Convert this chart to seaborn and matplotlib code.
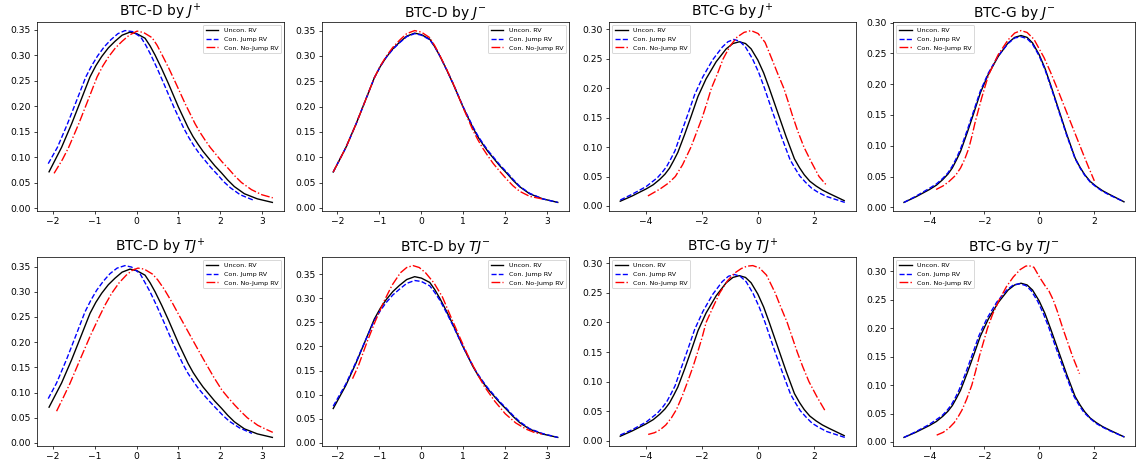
import matplotlib
matplotlib.use("Agg")
import matplotlib.pyplot as plt
import seaborn as sns

# ---------------- data ----------------
LABELS = ["Uncon. RV", "Con. Jump RV", "Con. No-Jump RV"]
TITLES = ["BTC-D by $J^{+}$", "BTC-D by $J^{-}$", "BTC-G by $J^{+}$", "BTC-G by $J^{-}$",
          "BTC-D by $TJ^{+}$", "BTC-D by $TJ^{-}$", "BTC-G by $TJ^{+}$", "BTC-G by $TJ^{-}$"]

# BTC-D unconditional density (shared by the four BTC-D panels)
D_UNC_X = [-2.1, -1.95, -1.8, -1.56, -1.32, -1.12, -0.98, -0.84, -0.68, -0.52, -0.35, -0.16, 0.0,
           0.2, 0.32, 0.44, 0.6, 0.76, 1.0, 1.23, 1.35, 1.47, 1.59, 1.71, 1.87, 2.03, 2.18, 2.34,
           2.58, 2.89, 3.25]
D_UNC_Y = [0.071, 0.095, 0.119, 0.165, 0.215, 0.257, 0.279, 0.297, 0.314, 0.327, 0.339, 0.345, 0.342,
           0.333, 0.318, 0.30, 0.273, 0.244, 0.198, 0.158, 0.14, 0.125, 0.111, 0.099, 0.083, 0.069,
           0.055, 0.042, 0.028, 0.018, 0.011]

# BTC-G unconditional density (shared by the four BTC-G panels)
G_UNC_X = [-4.93, -4.5, -4.0, -3.75, -3.52, -3.33, -3.17, -3.02, -2.87, -2.63, -2.39, -2.15, -1.86,
           -1.5, -1.14, -0.9, -0.67, -0.45, -0.25, -0.01, 0.2, 0.4, 0.7, 1.0, 1.3, 1.48, 1.65,
           1.85, 2.07, 2.3, 2.55, 3.08]
G_UNC_Y = [0.008, 0.017, 0.029, 0.036, 0.045, 0.054, 0.064, 0.077, 0.091, 0.121, 0.153, 0.186,
           0.216, 0.245, 0.267, 0.276, 0.279, 0.276, 0.267, 0.248, 0.226, 0.20, 0.159, 0.118,
           0.080, 0.065, 0.053, 0.042, 0.034, 0.027, 0.021, 0.009]

# BTC-D by J+
D_JP_JUMP_X = [-2.12, -1.9, -1.66, -1.42, -1.22, -1.08, -0.94, -0.78, -0.62, -0.45, -0.28, -0.1,
               0.1, 0.22, 0.34, 0.5, 0.66, 0.9, 1.13, 1.25, 1.37, 1.49, 1.61, 1.77, 1.93, 2.08,
               2.24, 2.48, 2.78]
D_JP_JUMP_Y = [0.087, 0.119, 0.165, 0.215, 0.257, 0.279, 0.298, 0.316, 0.33, 0.342, 0.348, 0.346,
               0.335, 0.319, 0.30, 0.272, 0.242, 0.196, 0.156, 0.138, 0.122, 0.108, 0.096, 0.08,
               0.066, 0.052, 0.04, 0.026, 0.016]
D_JP_NOJ_X = [-1.98, -1.78, -1.63, -1.39, -1.15, -0.95, -0.81, -0.67, -0.51, -0.35, -0.18, 0.01,
              0.17, 0.37, 0.49, 0.61, 0.77, 0.93, 1.17, 1.4, 1.52, 1.64, 1.76, 1.88, 2.04, 2.2,
              2.35, 2.51, 2.75, 3.0, 3.26]
D_JP_NOJ_Y = [0.068, 0.095, 0.119, 0.165, 0.215, 0.257, 0.279, 0.297, 0.314, 0.327, 0.339, 0.347,
              0.344, 0.334, 0.319, 0.30, 0.274, 0.246, 0.203, 0.165, 0.148, 0.133, 0.119, 0.107,
              0.091, 0.077, 0.063, 0.05, 0.036, 0.026, 0.02]

# BTC-D by J-
D_JM_JUMP_X = [-2.1, -1.95, -1.8, -1.56, -1.32, -1.12, -0.98, -0.84, -0.68, -0.52, -0.35, -0.16,
               0.0, 0.2, 0.32, 0.44, 0.6, 0.76, 1.0, 1.23, 1.35, 1.47, 1.59, 1.71, 1.87, 2.03,
               2.18, 2.34, 2.58, 2.89, 3.25]
D_JM_JUMP_Y = [0.071, 0.095, 0.119, 0.165, 0.215, 0.257, 0.279, 0.297, 0.313, 0.326, 0.338, 0.344,
               0.341, 0.332, 0.318, 0.30, 0.273, 0.245, 0.199, 0.16, 0.142, 0.127, 0.113, 0.101,
               0.085, 0.071, 0.057, 0.043, 0.029, 0.018, 0.011]
D_JM_NOJ_X = [-2.1, -1.95, -1.8, -1.56, -1.32, -1.12, -0.98, -0.84, -0.68, -0.52, -0.35, -0.16,
              0.0, 0.2, 0.32, 0.44, 0.6, 0.76, 1.0, 1.23, 1.35, 1.47, 1.59, 1.71, 1.87, 2.03,
              2.18, 2.34, 2.58, 2.87]
D_JM_NOJ_Y = [0.071, 0.095, 0.119, 0.165, 0.215, 0.257, 0.28, 0.299, 0.317, 0.331, 0.344, 0.35,
              0.347, 0.336, 0.32, 0.301, 0.274, 0.245, 0.197, 0.153, 0.134, 0.117, 0.102, 0.088,
              0.072, 0.057, 0.044, 0.033, 0.023, 0.018]

# BTC-G by J+
G_JP_JUMP_X = [-4.93, -4.5, -4.0, -3.6, -3.43, -3.27, -3.12, -2.97, -2.75, -2.51, -2.27, -1.98,
               -1.63, -1.28, -1.08, -0.87, -0.66, -0.45, -0.2, 0.02, 0.23, 0.53, 0.84, 1.14, 1.32,
               1.49, 1.7, 1.92, 2.15, 2.45, 3.1]
G_JP_JUMP_Y = [0.01, 0.02, 0.033, 0.048, 0.057, 0.067, 0.08, 0.094, 0.124, 0.156, 0.189, 0.219,
               0.248, 0.27, 0.279, 0.283, 0.28, 0.27, 0.25, 0.227, 0.20, 0.158, 0.117, 0.079,
               0.064, 0.051, 0.04, 0.03, 0.023, 0.016, 0.006]
G_JP_NOJ_X = [-3.94, -3.5, -3.2, -2.96, -2.7, -2.4, -2.2, -2.0, -1.83, -1.67, -1.45, -1.25, -1.0,
              -0.75, -0.5, -0.25, 0.0, 0.25, 0.49, 0.7, 0.92, 1.07, 1.22, 1.42, 1.64, 1.9, 2.18, 2.45]
G_JP_NOJ_Y = [0.017, 0.029, 0.039, 0.05, 0.07, 0.10, 0.125, 0.15, 0.175, 0.20, 0.225, 0.25,
              0.272, 0.287, 0.295, 0.298, 0.293, 0.278, 0.25, 0.225, 0.20, 0.178, 0.155, 0.127,
              0.10, 0.075, 0.05, 0.035]

# BTC-G by J-
G_JM_JUMP_X = [-4.93, -4.5, -4.0, -3.75, -3.52, -3.33, -3.17, -3.02, -2.87, -2.63, -2.39, -2.15,
               -1.86, -1.5, -1.14, -0.9, -0.67, -0.45, -0.25, -0.01, 0.2, 0.4, 0.7, 1.0, 1.3, 1.48,
               1.65, 1.85, 2.07, 2.3, 2.55, 3.08]
G_JM_JUMP_Y = [0.008, 0.018, 0.031, 0.038, 0.047, 0.056, 0.067, 0.08, 0.095, 0.125, 0.157, 0.189,
               0.218, 0.246, 0.266, 0.275, 0.277, 0.274, 0.265, 0.246, 0.224, 0.198, 0.157, 0.116,
               0.079, 0.064, 0.052, 0.041, 0.033, 0.026, 0.02, 0.009]
G_JM_NOJ_X = [-3.76, -3.5, -3.29, -3.05, -2.87, -2.72, -2.57, -2.45, -2.33, -2.1, -1.86, -1.5,
              -1.14, -0.9, -0.67, -0.45, -0.2, 0.17, 0.4, 0.64, 0.88, 1.12, 1.36, 1.6, 1.8, 2.0]
G_JM_NOJ_Y = [0.029, 0.035, 0.042, 0.052, 0.064, 0.078, 0.096, 0.117, 0.14, 0.178, 0.214, 0.248,
              0.272, 0.283, 0.287, 0.284, 0.273, 0.243, 0.22, 0.194, 0.167, 0.14, 0.113, 0.086,
              0.064, 0.043]

# BTC-D by TJ+
D_TP_JUMP_X = [-2.12, -1.92, -1.68, -1.44, -1.24, -1.1, -0.96, -0.8, -0.64, -0.47, -0.28, -0.12,
               0.08, 0.2, 0.32, 0.48, 0.64, 0.88, 1.11, 1.23, 1.35, 1.47, 1.59, 1.75, 1.91, 2.06,
               2.22, 2.46, 2.76]
D_TP_JUMP_Y = [0.088, 0.119, 0.166, 0.217, 0.26, 0.283, 0.303, 0.321, 0.336, 0.347, 0.352, 0.349,
               0.336, 0.318, 0.30, 0.272, 0.242, 0.196, 0.156, 0.138, 0.123, 0.109, 0.097, 0.082,
               0.068, 0.055, 0.043, 0.03, 0.019]
D_TP_NOJ_X = [-1.92, -1.76, -1.6, -1.36, -1.11, -0.9, -0.75, -0.6, -0.42, -0.25, -0.1, 0.03, 0.18,
              0.38, 0.5, 0.66, 0.86, 1.05, 1.37, 1.62, 1.85, 2.04, 2.2, 2.35, 2.5, 2.65, 2.9, 3.1,
              3.26]
D_TP_NOJ_Y = [0.063, 0.09, 0.118, 0.165, 0.213, 0.25, 0.275, 0.297, 0.318, 0.333, 0.343, 0.347,
              0.345, 0.335, 0.324, 0.305, 0.277, 0.248, 0.20, 0.163, 0.13, 0.105, 0.089, 0.075,
              0.062, 0.05, 0.035, 0.027, 0.021]

# BTC-D by TJ-
D_TM_JUMP_X = [-2.1, -1.95, -1.8, -1.56, -1.32, -1.12, -0.98, -0.84, -0.68, -0.52, -0.35, -0.16,
               0.0, 0.2, 0.32, 0.44, 0.6, 0.76, 1.0, 1.23, 1.35, 1.47, 1.59, 1.71, 1.87, 2.03,
               2.18, 2.34, 2.58, 2.89, 3.25]
D_TM_JUMP_Y = [0.076, 0.099, 0.122, 0.167, 0.215, 0.254, 0.274, 0.291, 0.307, 0.319, 0.331, 0.337,
               0.335, 0.326, 0.312, 0.296, 0.27, 0.242, 0.198, 0.159, 0.142, 0.127, 0.113, 0.101,
               0.085, 0.071, 0.057, 0.044, 0.029, 0.019, 0.011]
D_TM_NOJ_X = [-1.64, -1.5, -1.3, -1.1, -0.9, -0.7, -0.5, -0.35, -0.2, -0.05, 0.1, 0.3, 0.5, 0.7,
              0.9, 1.1, 1.3, 1.5, 1.75, 2.0, 2.25, 2.5, 2.7, 2.87]
D_TM_NOJ_Y = [0.133, 0.16, 0.208, 0.252, 0.292, 0.327, 0.353, 0.364, 0.368, 0.364, 0.353, 0.332,
              0.303, 0.262, 0.222, 0.183, 0.148, 0.117, 0.086, 0.06, 0.041, 0.028, 0.021, 0.018]

# BTC-G by TJ+
G_TP_JUMP_X = [-4.93, -4.5, -4.0, -3.6, -3.43, -3.27, -3.12, -2.97, -2.75, -2.51, -2.27, -1.98,
               -1.63, -1.28, -1.06, -0.85, -0.64, -0.43, -0.18, 0.04, 0.25, 0.55, 0.86, 1.16, 1.34,
               1.51, 1.72, 1.93, 2.17, 2.45, 3.1]
G_TP_JUMP_Y = [0.01, 0.019, 0.032, 0.047, 0.056, 0.066, 0.079, 0.093, 0.123, 0.155, 0.188, 0.218,
               0.247, 0.269, 0.278, 0.281, 0.278, 0.269, 0.249, 0.226, 0.20, 0.158, 0.117, 0.079,
               0.064, 0.051, 0.04, 0.03, 0.023, 0.016, 0.006]
G_TP_NOJ_X = [-3.93, -3.7, -3.5, -3.3, -3.1, -2.92, -2.72, -2.52, -2.33, -2.16, -2.0, -1.86,
              -1.62, -1.37, -1.1, -0.85, -0.6, -0.4, -0.19, 0.05, 0.3, 0.61, 0.82, 1.04, 1.22, 1.4,
              1.6, 1.82, 2.1, 2.42]
G_TP_NOJ_Y = [0.011, 0.014, 0.019, 0.027, 0.039, 0.053, 0.075, 0.10, 0.125, 0.15, 0.175, 0.20,
              0.225, 0.25, 0.27, 0.283, 0.291, 0.295, 0.296, 0.292, 0.28, 0.25, 0.225, 0.20, 0.175,
              0.15, 0.125, 0.10, 0.075, 0.049]

# BTC-G by TJ-
G_TM_JUMP_X = [-4.93, -4.5, -4.0, -3.55, -3.37, -3.21, -3.06, -2.92, -2.68, -2.44, -2.2, -1.91,
               -1.55, -1.19, -0.95, -0.72, -0.5, -0.3, -0.06, 0.15, 0.35, 0.65, 0.96, 1.26, 1.44,
               1.62, 1.83, 2.05, 2.3, 2.55, 3.08]
G_TM_JUMP_Y = [0.008, 0.018, 0.031, 0.046, 0.055, 0.065, 0.078, 0.092, 0.122, 0.154, 0.187, 0.217,
               0.246, 0.267, 0.276, 0.278, 0.275, 0.266, 0.247, 0.225, 0.20, 0.159, 0.118, 0.080,
               0.065, 0.052, 0.042, 0.033, 0.026, 0.02, 0.009]
G_TM_NOJ_X = [-3.74, -3.5, -3.3, -3.1, -2.95, -2.82, -2.65, -2.46, -2.32, -2.19, -2.04, -1.89,
              -1.7, -1.46, -1.2, -0.95, -0.7, -0.5, -0.39, -0.2, 0.0, 0.2, 0.35, 0.5, 0.65, 0.85,
              1.03, 1.21, 1.46]
G_TM_NOJ_Y = [0.012, 0.017, 0.024, 0.034, 0.045, 0.056, 0.075, 0.10, 0.125, 0.15, 0.175, 0.20,
              0.225, 0.25, 0.273, 0.29, 0.303, 0.309, 0.31, 0.307, 0.29, 0.275, 0.265, 0.25, 0.23,
              0.20, 0.175, 0.15, 0.12]

# ---------------- figure ----------------
DPI = 66
fig = plt.figure(figsize=(1138 / DPI, 464 / DPI), dpi=DPI)

W, H = 1138.0, 464.0
cols = [(37, 284), (322, 569), (609, 856), (893, 1135)]
rows = [(22, 211), (257, 446)]

panels = [
    (D_UNC_X, D_UNC_Y, D_JP_JUMP_X, D_JP_JUMP_Y, D_JP_NOJ_X, D_JP_NOJ_Y, "upper right"),
    (D_UNC_X, D_UNC_Y, D_JM_JUMP_X, D_JM_JUMP_Y, D_JM_NOJ_X, D_JM_NOJ_Y, "upper right"),
    (G_UNC_X, G_UNC_Y, G_JP_JUMP_X, G_JP_JUMP_Y, G_JP_NOJ_X, G_JP_NOJ_Y, "upper left"),
    (G_UNC_X, G_UNC_Y, G_JM_JUMP_X, G_JM_JUMP_Y, G_JM_NOJ_X, G_JM_NOJ_Y, "upper left"),
    (D_UNC_X, D_UNC_Y, D_TP_JUMP_X, D_TP_JUMP_Y, D_TP_NOJ_X, D_TP_NOJ_Y, "upper right"),
    (D_UNC_X, D_UNC_Y, D_TM_JUMP_X, D_TM_JUMP_Y, D_TM_NOJ_X, D_TM_NOJ_Y, "upper right"),
    (G_UNC_X, G_UNC_Y, G_TP_JUMP_X, G_TP_JUMP_Y, G_TP_NOJ_X, G_TP_NOJ_Y, "upper left"),
    (G_UNC_X, G_UNC_Y, G_TM_JUMP_X, G_TM_JUMP_Y, G_TM_NOJ_X, G_TM_NOJ_Y, "upper left"),
]

styles = [("k", "-"), ("b", "--"), ("r", "-.")]

for i, (ux, uy, jx, jy, nx, ny, loc) in enumerate(panels):
    r, c = divmod(i, 4)
    x0, x1 = cols[c]
    y0, y1 = rows[r]
    ax = fig.add_axes([x0 / W, (H - y1) / H, (x1 - x0) / W, (y1 - y0) / H])
    for (xs, ys), (col, ls), lab in zip([(ux, uy), (jx, jy), (nx, ny)], styles, LABELS):
        sns.lineplot(x=xs, y=ys, ax=ax, color=col, linestyle=ls, linewidth=1.5,
                     label=lab, estimator=None, sort=False)
    ax.set_title(TITLES[i], fontsize=15)
    ax.tick_params(labelsize=10)
    ax.legend(loc=loc, fontsize=7)
    ax.set_xlabel("")
    ax.set_ylabel("")

fig.savefig("out.png", dpi=DPI)
